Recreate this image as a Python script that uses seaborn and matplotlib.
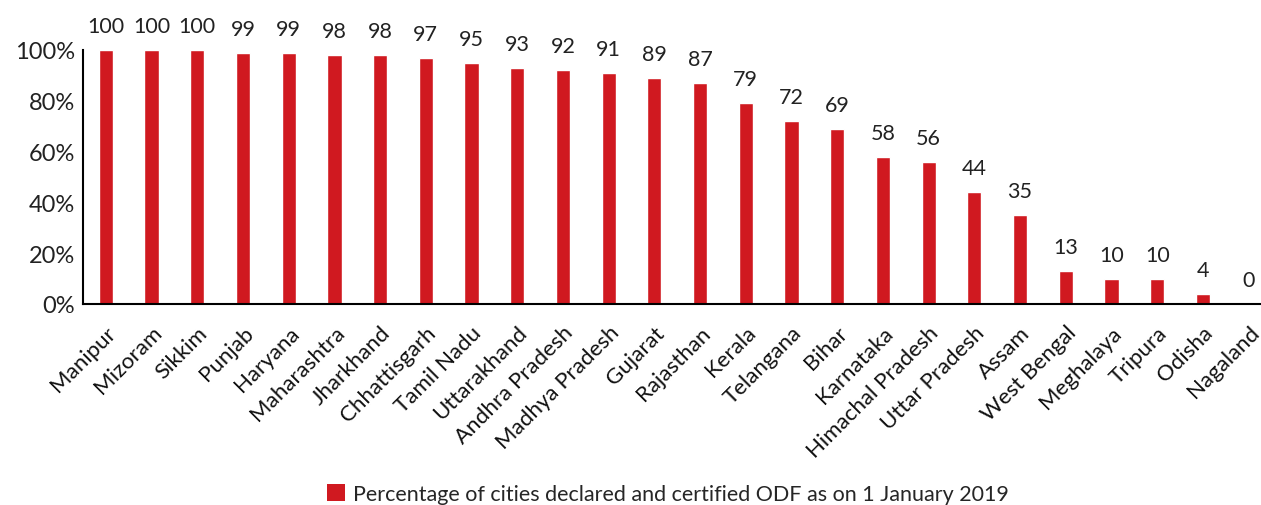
import matplotlib
matplotlib.use("Agg")
import matplotlib.pyplot as plt
import seaborn as sns
import pandas as pd
from matplotlib.patches import Patch

states = ["Manipur", "Mizoram", "Sikkim", "Punjab", "Haryana", "Maharashtra",
          "Jharkhand", "Chhattisgarh", "Tamil Nadu", "Uttarakhand", "Andhra Pradesh",
          "Madhya Pradesh", "Gujarat", "Rajasthan", "Kerala", "Telangana", "Bihar",
          "Karnataka", "Himachal Pradesh", "Uttar Pradesh", "Assam", "West Bengal",
          "Meghalaya", "Tripura", "Odisha", "Nagaland"]
values = [100, 100, 100, 99, 99, 98, 98, 97, 95, 93, 92, 91, 89, 87, 79, 72, 69,
          58, 56, 44, 35, 13, 10, 10, 4, 0]
ytick_labels = ["0%", "20%", "40%", "60%", "80%", "100%"]
legend_label = "Percentage of cities declared and certified ODF as on 1 January 2019"

sns.set_theme(style="white")
plt.rcParams["font.family"] = ["Lato", "DejaVu Sans"]

df = pd.DataFrame({"state": states, "value": values})
color = "#D01920"

fig = plt.figure(figsize=(12.61, 5.06), dpi=100)
ax = fig.add_axes([83 / 1261, 1 - 305 / 506, (1261 - 83) / 1261, (305 - 51) / 506])
sns.barplot(data=df, x="state", y="value", color=color, width=0.31, ax=ax,
            saturation=1)
ax.set_ylim(0, 100)
ax.set_xlim(-0.5, 25.27)
ax.set_yticks([0, 20, 40, 60, 80, 100])
ax.set_yticklabels(ytick_labels, fontsize=17, color="#222222")
ax.set_xticks(range(len(states)))
ax.set_xticklabels(states, rotation=45, ha="right", rotation_mode="anchor",
                   fontsize=16, color="#111111")
ax.tick_params(axis="y", length=0, pad=6)
ax.tick_params(axis="x", length=0, pad=13)
ax.set_xlabel("")
ax.set_ylabel("")
for s in ["top", "right"]:
    ax.spines[s].set_visible(False)
for s in ["left", "bottom"]:
    ax.spines[s].set_color("#000000")
    ax.spines[s].set_linewidth(1.5)

for i, v in enumerate(values):
    ax.annotate(str(v), (i, v), xytext=(0, 10), textcoords="offset points",
                ha="center", va="bottom", fontsize=15.5, color="#222222",
                annotation_clip=False)

handle = Patch(facecolor=color, edgecolor="none")
fig.legend([handle], [legend_label], loc="center",
           bbox_to_anchor=(0.53, 1 - 495 / 506),
           frameon=False, fontsize=15.5, handlelength=0.8, handleheight=0.8,
           handletextpad=0.4, borderaxespad=0, borderpad=0)

fig.savefig("out.png", dpi=100)
